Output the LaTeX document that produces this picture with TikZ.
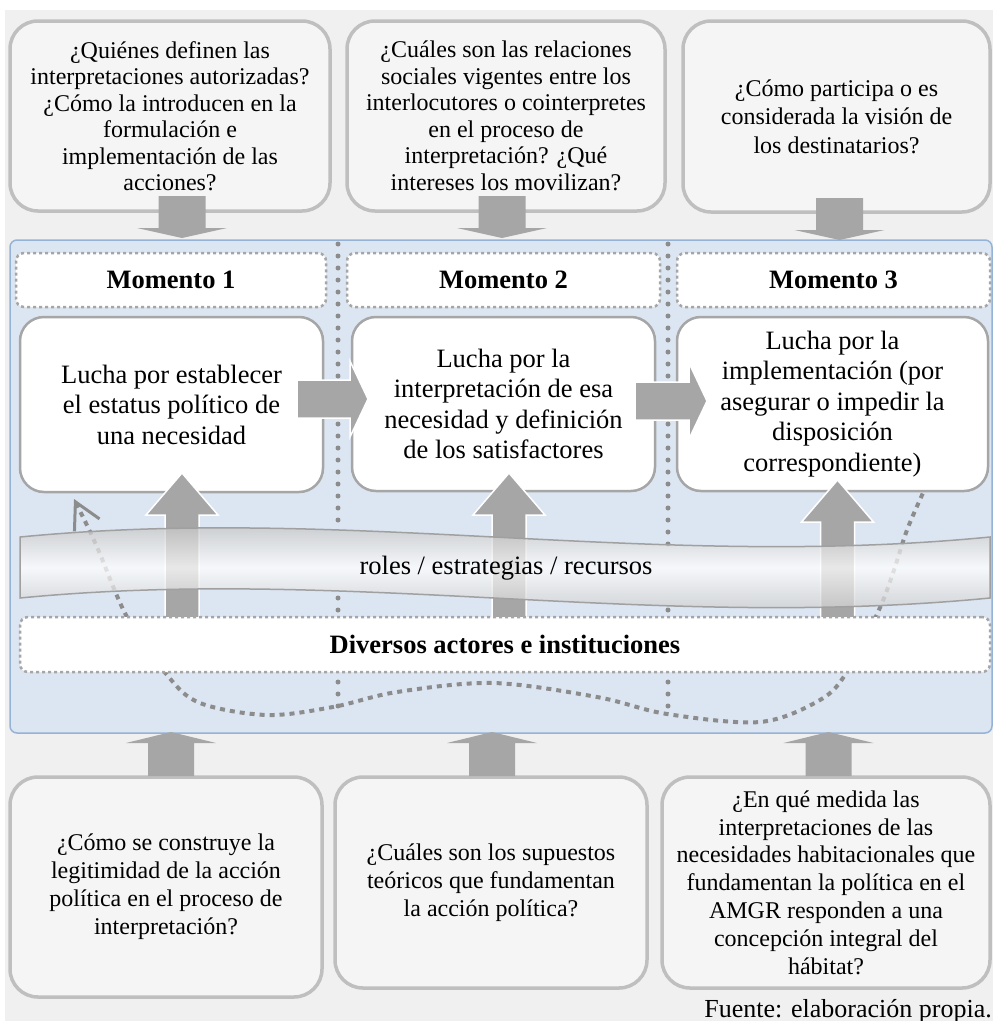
\documentclass[tikz,border=0pt]{standalone}
\usepackage{fontspec}
\setmainfont{Liberation Serif}
\usetikzlibrary{calc,arrows.meta}

\definecolor{pagebg}{HTML}{F0F0F0}
\definecolor{qfill}{HTML}{F5F5F5}
\definecolor{qline}{HTML}{BFBFBF}
\definecolor{panelfill}{HTML}{DCE6F2}
\definecolor{panelline}{HTML}{95B3D7}
\definecolor{arrowgray}{HTML}{A6A6A6}
\definecolor{dotgray}{HTML}{8C8C8C}
\definecolor{ribbontop}{HTML}{BEBEBE}
\definecolor{ribbonbot}{HTML}{C8C8C8}
\definecolor{ribbonline}{HTML}{A0A0A0}

\newcommand{\qfont}{\fontsize{24}{26.5}\selectfont}
\newcommand{\pfont}{\fontsize{26.5}{30.5}\selectfont}
\newcommand{\hfont}{\fontsize{26.5}{30}\selectfont\bfseries}
\newcommand{\ribbonpath}{(20,537) .. controls (350,505) and (650,570) .. (990,537) -- (990,598) .. controls (650,631) and (350,566) .. (20,598) -- cycle}

\tikzset{
  % block arrow drawn from the start point to the tip:
  % #1 = half shaft width, #2 = half head width, #3 = head length
  blockarrow/.style n args={3}{to path={
    let \p1=($(\tikztotarget)!#3!(\tikztostart)$) in
    ($(\tikztostart)!#1!90:(\tikztotarget)$)
    -- ($(\p1)!#1!90:(\tikztotarget)$)
    -- ($(\p1)!#2!90:(\tikztotarget)$)
    -- (\tikztotarget)
    -- ($(\p1)!#2!-90:(\tikztotarget)$)
    -- ($(\p1)!#1!-90:(\tikztotarget)$)
    -- ($(\tikztostart)!#1!-90:(\tikztotarget)$)
    -- cycle}},
  qbox/.style={draw=qline, line width=3.5pt, fill=qfill, rounded corners=28pt,
    align=center, font=\qfont, inner sep=0pt},
  panelbox/.style={draw=panelline, line width=1.5pt, fill=panelfill,
    rounded corners=7pt, inner sep=0pt},
  mbox/.style={draw=arrowgray, line width=2.5pt, dash pattern=on 3pt off 3pt,
    fill=white, rounded corners=8pt, font=\hfont, inner sep=0pt},
  pbox/.style={draw=arrowgray, line width=2.5pt, fill=white, rounded corners=24pt,
    align=center, font=\pfont, inner sep=0pt},
  sepdots/.style={draw=dotgray, line width=5pt, line cap=round,
    dash pattern=on 0pt off 12pt},
  loopline/.style={draw=dotgray, line width=4pt, dash pattern=on 5pt off 5pt},
  outerarrow/.style={fill=arrowgray, draw=none},
  innerarrow/.style={fill=arrowgray, draw=white, line width=1.5pt, line join=miter},
}

\begin{document}
\begin{tikzpicture}[x=1pt,y=-1pt]
\useasboundingbox (0,0) rectangle (993,1021);
\fill[pagebg] (5,10) rectangle (993,1021);

% guiding questions above
\node[qbox, minimum width=320pt, minimum height=190pt] (q1) at (170,116)
  {¿Quiénes definen las\\interpretaciones autorizadas?\\¿Cómo la introducen en la\\formulación e\\implementación de las\\acciones?};
\node[qbox, minimum width=318pt, minimum height=190pt] (q2) at (506,116)
  {¿Cuáles son las relaciones\\sociales vigentes entre los\\interlocutores o cointerpretes\\en el proceso de\\interpretación? ¿Qué\\intereses los movilizan?};
\node[qbox, minimum width=307pt, minimum height=191pt, font=\fontsize{24}{28.5}\selectfont] (q3) at (836.5,116.5)
  {¿Cómo participa o es\\considerada la visión de\\los destinatarios?};

% central panel
\node[panelbox, minimum width=982pt, minimum height=493pt] (panel) at (501,486.5) {};

% column separators
\draw[sepdots] (338,244) -- (338,528);
\draw[sepdots] (338,598) -- (338,717);
\draw[sepdots] (668,244) -- (668,545);
\draw[sepdots] (668,610) -- (668,717);

% feedback loop between the moments
\draw[loopline, {Straight Barb[length=26pt,width=28pt,line width=3pt]}-]
  plot[smooth, tension=0.55] coordinates {(74,499) (97,547) (127,617) (167,675)
  (200,703) (267,715) (333,707) (397,692) (493,683) (597,697) (667,714)
  (760,722) (820,700) (847,672) (878,612) (893,573) (907,530) (923,493)};

% moments
\node[mbox, minimum width=310pt, minimum height=54pt] (m1) at (171,280) {Momento 1};
\node[mbox, minimum width=313pt, minimum height=54pt] (m2) at (503.5,280) {Momento 2};
\node[mbox, minimum width=313pt, minimum height=54pt] (m3) at (833.5,280) {Momento 3};

% struggles
\node[pbox, minimum width=303pt, minimum height=175pt] (p1) at (171.5,404.5)
  {Lucha por establecer\\el estatus político de\\una necesidad};
\node[pbox, minimum width=303pt, minimum height=174pt] (p2) at (503.5,404)
  {Lucha por la\\interpretación de esa\\necesidad y definición\\de los satisfactores};
\node[pbox, minimum width=311pt, minimum height=174pt] (p3) at (832.5,404)
  {Lucha por la\\implementación (por\\asegurar o impedir la\\disposición\\correspondiente)};

% actors push each struggle upwards
\coordinate (u1s) at (182,618);   \coordinate (u1t) at (182,473);
\coordinate (u2s) at (509,618);   \coordinate (u2t) at (509,473);
\coordinate (u3s) at (837.5,618); \coordinate (u3t) at (837.5,480);
\draw[innerarrow, blockarrow={17pt}{36pt}{42pt}] (u1s) to (u1t);
\draw[innerarrow, blockarrow={17pt}{36pt}{42pt}] (u2s) to (u2t);
\draw[innerarrow, blockarrow={17pt}{36pt}{42pt}] (u3s) to (u3t);

% ribbon of roles, strategies and resources
\begin{scope}
  \clip \ribbonpath;
  \shade[top color=ribbontop, bottom color=ribbonbot, middle color=white, opacity=0.75]
    (20,520) rectangle (990,615);
\end{scope}
\draw[ribbonline, line width=1.5pt] \ribbonpath;
\node[font=\pfont, inner sep=0pt] (roles) at (506,568) {roles / estrategias / recursos};

% actors
\node[mbox, minimum width=970pt, minimum height=55pt] (actors) at (505,644.5)
  {Diversos actores e instituciones};

% sequence of moments
\coordinate (r1s) at (297,399); \coordinate (r1t) at (368,399);
\coordinate (r2s) at (635,401); \coordinate (r2t) at (707,401);
\draw[innerarrow, blockarrow={19pt}{38pt}{18pt}] (r1s) to (r1t);
\draw[innerarrow, blockarrow={19pt}{38pt}{18pt}] (r2s) to (r2t);

% questions feeding into the panel from above
\coordinate (d1s) at (182,196);   \coordinate (d1t) at (182,238);
\coordinate (d2s) at (502,196);   \coordinate (d2t) at (502,238);
\coordinate (d3s) at (839.5,198); \coordinate (d3t) at (839.5,240);
\draw[outerarrow, blockarrow={23.5pt}{45pt}{10pt}] (d1s) to (d1t);
\draw[outerarrow, blockarrow={23.5pt}{45pt}{10pt}] (d2s) to (d2t);
\draw[outerarrow, blockarrow={23.5pt}{45pt}{10pt}] (d3s) to (d3t);

% guiding questions below
\node[qbox, minimum width=312pt, minimum height=220pt, font=\fontsize{24}{28}\selectfont] (bq1) at (166,887)
  {¿Cómo se construye la\\legitimidad de la acción\\política en el proceso de\\interpretación?};
\node[qbox, minimum width=312pt, minimum height=211pt, font=\fontsize{24}{28}\selectfont] (bq2) at (491,882.5)
  {¿Cuáles son los supuestos\\teóricos que fundamentan\\la acción política?};
\node[qbox, minimum width=328pt, minimum height=211pt, font=\fontsize{24}{27.8}\selectfont] (bq3) at (826,882.5)
  {¿En qué medida las\\interpretaciones de las\\necesidades habitacionales que\\fundamentan la política en el\\AMGR responden a una\\concepción integral del\\hábitat?};

\coordinate (b1s) at (171,776);   \coordinate (b1t) at (171,732);
\coordinate (b2s) at (492,776);   \coordinate (b2t) at (492,732);
\coordinate (b3s) at (828.5,776); \coordinate (b3t) at (828.5,732);
\draw[outerarrow, blockarrow={23pt}{45pt}{11pt}] (b1s) to (b1t);
\draw[outerarrow, blockarrow={23pt}{45pt}{11pt}] (b2s) to (b2t);
\draw[outerarrow, blockarrow={23pt}{45pt}{11pt}] (b3s) to (b3t);

% source note
\node[font=\fontsize{26}{30}\selectfont, anchor=base east, inner sep=0pt] (source) at (992,1017)
  {Fuente: elaboración propia.};
\end{tikzpicture}
\end{document}
